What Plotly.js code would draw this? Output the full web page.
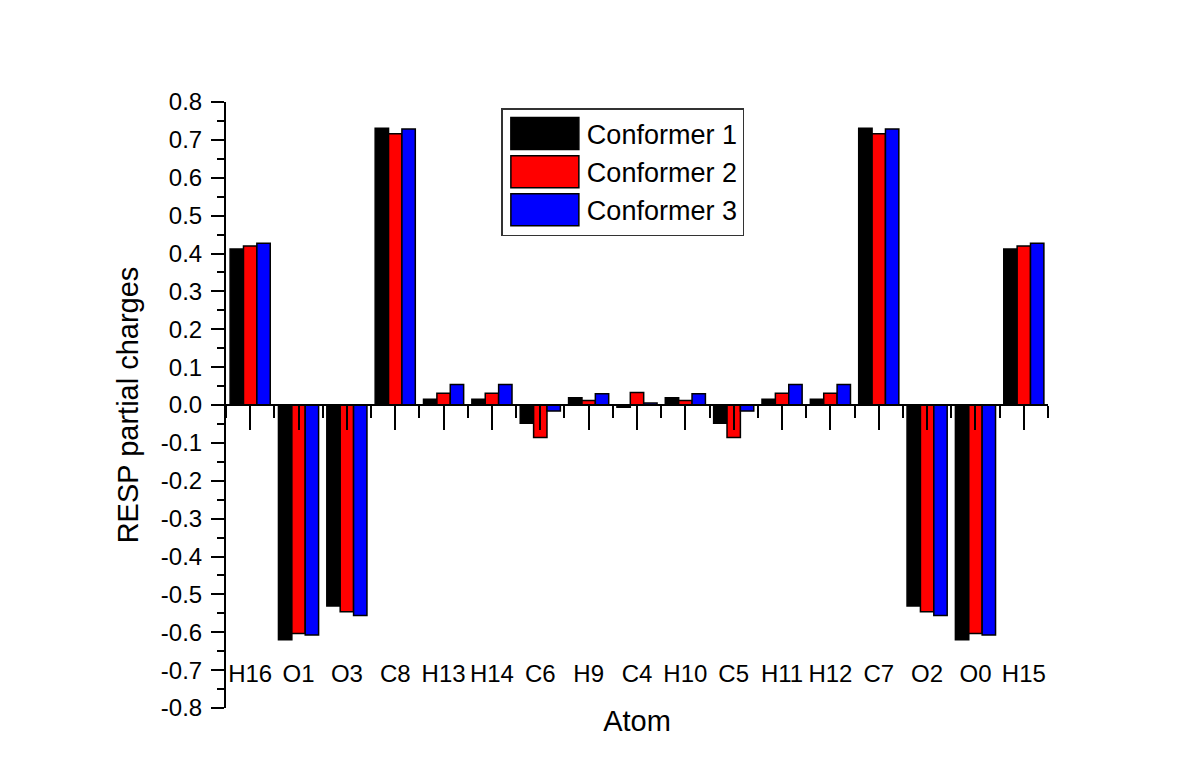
<!DOCTYPE html>
<html><head><meta charset="utf-8">
<script src="https://cdn.plot.ly/plotly-3.0.1.min.js"></script>
<style>html,body{margin:0;padding:0;background:#fff}#chart{width:1200px;height:770px}</style>
</head><body><div id="chart"></div>
<script>
// ---- data ----
const atoms = ['H16','O1','O3','C8','H13','H14','C6','H9','C4','H10','C5','H11','H12','C7','O2','O0','H15'];
const conformer1 = [0.412,-0.620,-0.531,0.731,0.015,0.015,-0.048,0.019,-0.006,0.019,-0.048,0.015,0.015,0.731,-0.531,-0.620,0.412];
const conformer2 = [0.420,-0.603,-0.546,0.716,0.031,0.031,-0.086,0.012,0.033,0.012,-0.086,0.031,0.031,0.716,-0.546,-0.603,0.420];
const conformer3 = [0.427,-0.607,-0.556,0.729,0.054,0.054,-0.016,0.030,0.005,0.030,-0.016,0.054,0.054,0.729,-0.556,-0.607,0.427];
const seriesNames = ['Conformer 1','Conformer 2','Conformer 3'];
const yTickValues = [0.8,0.7,0.6,0.5,0.4,0.3,0.2,0.1,0,-0.1,-0.2,-0.3,-0.4,-0.5,-0.6,-0.7,-0.8];
const yTickLabels = ['0.8','0.7','0.6','0.5','0.4','0.3','0.2','0.1','0.0','-0.1','-0.2','-0.3','-0.4','-0.5','-0.6','-0.7','-0.8'];

// ---- styling ----
const colors = ['#000000','#ff0000','#0000ff'];
const FONT = 'Liberation Sans, Arial, sans-serif';
const series = [conformer1, conformer2, conformer3];
const xRange = [-0.5, atoms.length - 0.5];
const boundaryTicks = [-0.5].concat(atoms.map((_, i) => i + 0.5));

const traces = series.map((vals, i) => ({
  type: 'bar', name: seriesNames[i], x: atoms, y: vals,
  xaxis: 'x', yaxis: 'y',
  marker: {color: colors[i], line: {color: '#000000', width: 1.5}},
  hoverinfo: 'skip'
}));
// invisible helpers so the overlay axes (boundary ticks, bottom labels) are drawn
traces.push({type: 'scatter', mode: 'markers', x: atoms.map((_, i) => i), y: conformer1,
  xaxis: 'x2', yaxis: 'y', marker: {opacity: 0}, showlegend: false, hoverinfo: 'skip'});
traces.push({type: 'scatter', mode: 'markers', x: atoms, y: conformer1,
  xaxis: 'x3', yaxis: 'y', marker: {opacity: 0}, showlegend: false, hoverinfo: 'skip'});

const layout = {
  width: 1200, height: 770,
  paper_bgcolor: '#ffffff', plot_bgcolor: '#ffffff',
  font: {family: FONT, color: '#000000', size: 24},
  margin: {l: 226, r: 152, t: 102, b: 62, pad: 0},
  barmode: 'group', bargap: 0.17, bargroupgap: 0,
  hovermode: false,
  showlegend: true,
  legend: {
    x: 0.335, y: 0.99, xanchor: 'left', yanchor: 'top',
    bgcolor: '#ffffff', bordercolor: '#333333', borderwidth: 1.5,
    font: {family: FONT, size: 27, color: '#000000'},
    itemwidth: 74, tracegroupgap: 0
  },
  xaxis: {
    type: 'category', categoryorder: 'array', categoryarray: atoms,
    range: xRange, anchor: 'free', position: 0.5,
    showline: true, linecolor: '#000000', linewidth: 2,
    ticks: 'outside', ticklen: 24, tickwidth: 2, tickcolor: '#000000',
    showticklabels: false, showgrid: false, zeroline: false,
    layer: 'above traces'
  },
  xaxis2: {
    type: 'linear', overlaying: 'x', range: xRange, anchor: 'free', position: 0.5,
    tickmode: 'array', tickvals: boundaryTicks,
    ticks: 'outside', ticklen: 12, tickwidth: 2, tickcolor: '#000000',
    showticklabels: false, showline: false, showgrid: false, zeroline: false,
    layer: 'above traces'
  },
  xaxis3: {
    type: 'category', categoryorder: 'array', categoryarray: atoms,
    overlaying: 'x', range: xRange, anchor: 'free', position: 0.084, side: 'bottom',
    ticks: '', showline: false, showgrid: false, zeroline: false,
    tickfont: {family: FONT, size: 24, color: '#000000'},
    title: {text: 'Atom', font: {family: FONT, size: 29, color: '#000000'}, standoff: 24}
  },
  yaxis: {
    range: [-0.8, 0.8], anchor: 'x',
    tickmode: 'array', tickvals: yTickValues, ticktext: yTickLabels,
    ticks: 'outside', ticklen: 13, tickwidth: 2, tickcolor: '#000000',
    minor: {dtick: 0.05, tick0: 0, ticks: 'outside', ticklen: 7, tickwidth: 2, tickcolor: '#000000', showgrid: false},
    showline: true, linecolor: '#000000', linewidth: 2,
    showgrid: false, zeroline: false,
    tickfont: {family: FONT, size: 24, color: '#000000'},
    ticklabelstandoff: 4,
    title: {text: 'RESP partial charges', font: {family: FONT, size: 29, color: '#000000'}, standoff: 14}
  }
};

Plotly.newPlot('chart', traces, layout, {displayModeBar: false, staticPlot: true}).then(() => {
  // enlarge legend swatches to the wide blocks of the original figure
  document.querySelectorAll('#chart .legend .legendpoints path').forEach(p => {
    p.setAttribute('d', 'M34,16H-34V-16H34Z');
  });
});
</script>
</body></html>
